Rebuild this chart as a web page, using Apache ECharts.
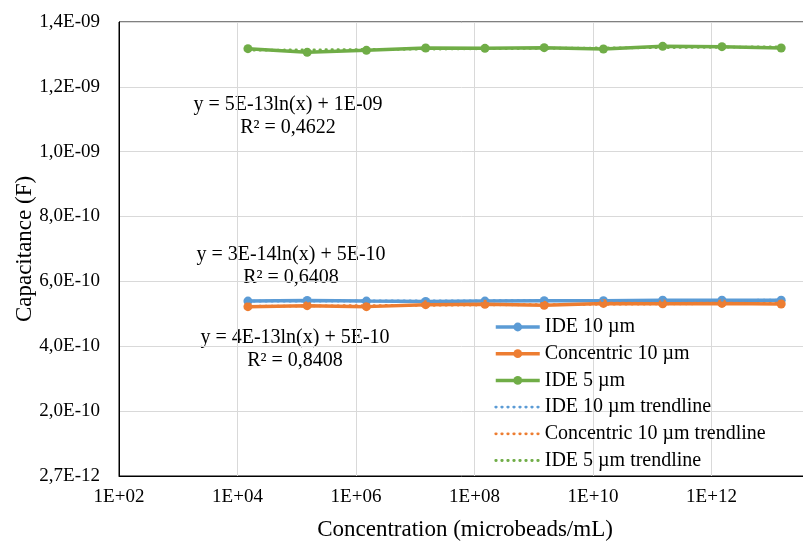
<!DOCTYPE html>
<html>
<head>
<meta charset="utf-8">
<script src="https://cdn.jsdelivr.net/npm/echarts@6/dist/echarts.min.js"></script>
<style>
  html, body { margin: 0; padding: 0; background: #ffffff; }
  #chart { width: 803px; height: 541px; }
</style>
</head>
<body>
<div id="chart"></div>
<script>
// Concentration of microbeads (microbeads/mL)
const concentrations = [1.5e4, 1.5e5, 1.5e6, 1.5e7, 1.5e8, 1.5e9, 1.5e10, 1.5e11, 1.5e12, 1.5e13];

// Measured capacitance (F) for each electrode design
const ide10 = [5.42e-10, 5.44e-10, 5.42e-10, 5.41e-10, 5.42e-10, 5.43e-10, 5.43e-10, 5.45e-10, 5.45e-10, 5.45e-10];
const concentric10 = [5.25e-10, 5.28e-10, 5.25e-10, 5.31e-10, 5.32e-10, 5.29e-10, 5.35e-10, 5.34e-10, 5.35e-10, 5.33e-10];
const ide5 = [1.3204e-9, 1.3092e-9, 1.3154e-9, 1.3225e-9, 1.3215e-9, 1.3235e-9, 1.3195e-9, 1.3277e-9, 1.3266e-9, 1.3225e-9];

const seriesNames = ['IDE 10 µm', 'Concentric 10 µm', 'IDE 5 µm'];
const seriesColors = ['#5B9BD5', '#ED7D31', '#70AD47'];

// Trendline equation labels (as reported by the logarithmic fit)
const equationText = [
  ['y = 3E-14ln(x) + 5E-10', 'R² = 0,6408'],
  ['y = 4E-13ln(x) + 5E-10', 'R² = 0,8408'],
  ['y = 5E-13ln(x) + 1E-09', 'R² = 0,4622']
];

// Axis ranges
const yMin = 2.7e-12;
const yStep = 2e-10;
const yStepCount = 7;
const xMin = 1e2;
const xMax = 1e14;

const FONT = '"Liberation Serif", "Times New Roman", serif';
const DATA_WIDTH = 3.5;
const TREND_WIDTH = 2.8;
const TREND_DASH = [0.5, 5.5];

// Least-squares fit of y = a*ln(x) + b
function logFit(xs, ys) {
  const n = xs.length;
  const lx = xs.map(Math.log);
  const mx = lx.reduce((s, v) => s + v, 0) / n;
  const my = ys.reduce((s, v) => s + v, 0) / n;
  let sxy = 0, sxx = 0;
  for (let i = 0; i < n; i++) {
    sxy += (lx[i] - mx) * (ys[i] - my);
    sxx += (lx[i] - mx) * (lx[i] - mx);
  }
  const a = sxy / sxx;
  const b = my - a * mx;
  return x => a * Math.log(x) + b;
}

function formatSci(v, digits) {
  const parts = v.toExponential(digits).split('e');
  const ex = parseInt(parts[1], 10);
  return parts[0].replace('.', ',') + 'E' + (ex < 0 ? '-' : '+') + String(Math.abs(ex)).padStart(2, '0');
}

const measured = [ide10, concentric10, ide5];

const dataSeries = measured.map((ys, i) => ({
  name: seriesNames[i],
  type: 'line',
  data: concentrations.map((x, j) => [x, ys[j]]),
  symbol: 'circle',
  symbolSize: 9,
  color: seriesColors[i],
  lineStyle: { width: DATA_WIDTH, color: seriesColors[i] },
  itemStyle: { color: seriesColors[i] },
  z: 3,
  animation: false
}));

const trendSeries = measured.map((ys, i) => {
  const f = logFit(concentrations, ys);
  const x0 = concentrations[0];
  const x1 = concentrations[concentrations.length - 1];
  return {
    name: seriesNames[i] + ' trendline',
    type: 'line',
    data: [[x0, f(x0)], [x1, f(x1)]],
    symbol: 'none',
    color: seriesColors[i],
    lineStyle: { width: TREND_WIDTH, color: seriesColors[i], type: TREND_DASH, cap: 'round' },
    z: 4,
    silent: true,
    animation: false
  };
});

const legendData = seriesNames.map((n, i) => ({
  name: n,
  lineStyle: { width: DATA_WIDTH, color: seriesColors[i] }
})).concat(seriesNames.map((n, i) => ({
  name: n + ' trendline',
  itemStyle: { color: 'rgba(0,0,0,0)', borderWidth: 0, opacity: 0 },
  lineStyle: { width: TREND_WIDTH, color: seriesColors[i], type: TREND_DASH, cap: 'round' }
})));

// Equation label placement (pixel centres of each two-line block)
const equationPos = [[291, 266], [295, 349], [288, 116.5]];

const chart = echarts.init(document.getElementById('chart'), null, { renderer: 'canvas' });

chart.setOption({
  backgroundColor: '#ffffff',
  animation: false,
  textStyle: { fontFamily: FONT },
  grid: {
    left: 119, top: 22, width: 711, height: 454,
    containLabel: false,
    outerBoundsMode: 'none',
    show: true, borderColor: '#000000', borderWidth: 1, backgroundColor: 'transparent'
  },
  xAxis: {
    type: 'log',
    logBase: 100,
    min: xMin,
    max: xMax,
    interval: 1,
    name: 'Concentration (microbeads/mL)',
    nameLocation: 'middle',
    nameGap: 42,
    nameTextStyle: { fontFamily: FONT, fontSize: 23, color: '#000000', padding: [0, 19, 0, 0] },
    axisLine: { show: true, lineStyle: { color: '#000000', width: 1 } },
    axisTick: { show: false },
    minorTick: { show: false },
    splitLine: { show: true, lineStyle: { color: '#d9d9d9', width: 1 } },
    axisLabel: {
      fontFamily: FONT, fontSize: 19, color: '#000000', margin: 12,
      formatter: v => formatSci(Math.pow(10, Math.round(Math.log10(v))), 0)
    }
  },
  yAxis: {
    type: 'value',
    min: yMin,
    max: yMin + yStepCount * yStep,
    interval: yStep,
    name: 'Capacitance (F)',
    nameLocation: 'middle',
    nameRotate: 90,
    nameGap: 83,
    nameMoveOverlap: false,
    nameTextStyle: { fontFamily: FONT, fontSize: 23, color: '#000000' },
    axisLine: { show: true, lineStyle: { color: '#000000', width: 1 } },
    axisTick: { show: false },
    splitLine: { show: true, lineStyle: { color: '#d9d9d9', width: 1 } },
    axisLabel: {
      fontFamily: FONT, fontSize: 19, color: '#000000', margin: 19,
      formatter: v => formatSci(v, 1)
    }
  },
  legend: {
    orient: 'vertical',
    left: 494,
    top: 317,
    padding: 0,
    itemWidth: 44,
    itemHeight: 11,
    itemGap: 6.7,
    textStyle: { fontFamily: FONT, fontSize: 20, color: '#000000' },
    data: legendData
  },
  graphic: equationText.map((lines, i) => ({
    type: 'text',
    x: equationPos[i][0],
    y: equationPos[i][1],
    silent: true,
    style: {
      text: lines.join('\n'),
      font: '20px ' + FONT,
      fill: '#000000',
      align: 'center',
      verticalAlign: 'middle',
      lineHeight: 23
    }
  })),
  series: dataSeries.concat(trendSeries)
});
</script>
</body>
</html>
